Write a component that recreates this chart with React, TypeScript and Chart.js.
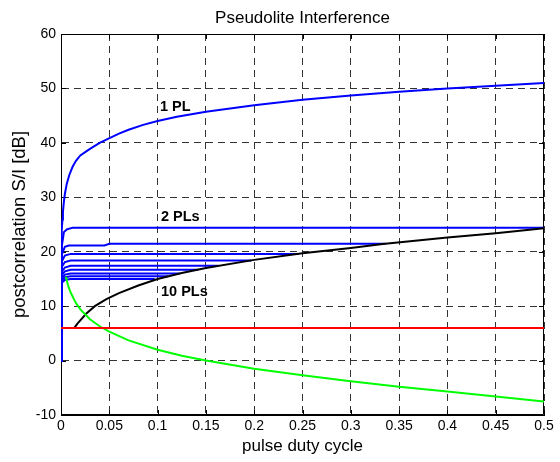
import React, { useEffect, useRef } from "react";
import { Chart, registerables } from "chart.js";

Chart.register(...registerables);

// ---------- data ----------
const xTicks = [0, 0.05, 0.1, 0.15, 0.2, 0.25, 0.3, 0.35, 0.4, 0.45, 0.5];
const yTicks = [-10, 0, 10, 20, 30, 40, 50, 60];

const titleText = "Pseudolite Interference";
const xLabel = "pulse duty cycle";
const yLabel = "postcorrelation S/I [dB]";

// 1 pseudolite
const onePlX = [0, 0.0005, 0.001, 0.0015, 0.002, 0.003, 0.004, 0.006, 0.0086, 0.012, 0.0155, 0.02, 0.025, 0.03, 0.04, 0.047, 0.06, 0.07, 0.085, 0.1, 0.12, 0.15, 0.2, 0.25, 0.3, 0.35, 0.4, 0.45, 0.5];
const onePlY = [0, 20, 24, 25.9, 27.3, 29.2, 30.6, 32.5, 34.1, 35.6, 36.7, 37.7, 38.3, 38.9, 40.0, 40.6, 41.7, 42.4, 43.3, 44.0, 44.8, 45.7, 46.9, 47.9, 48.7, 49.4, 50.0, 50.5, 51.0];

// 2 .. 10 pseudolites
const pl2X = [0, 0.0008, 0.003, 0.006, 0.012, 0.5];
const pl2Y = [0, 21, 23.6, 24.1, 24.4, 24.4];
const pl3X = [0, 0.0008, 0.004, 0.008, 0.045, 0.05, 0.336];
const pl3Y = [0, 19.5, 20.9, 21.15, 21.15, 21.45, 21.45];
const pl4X = [0, 0.0008, 0.004, 0.01, 0.246];
const pl4Y = [0, 18.2, 19.3, 19.6, 19.6];
const pl5X = [0, 0.0008, 0.004, 0.01, 0.197];
const pl5Y = [0, 17.2, 18.1, 18.4, 18.4];
const pl6X = [0, 0.0008, 0.004, 0.01, 0.163];
const pl6Y = [0, 16.3, 17.1, 17.4, 17.4];
const pl7X = [0, 0.0008, 0.004, 0.01, 0.142];
const pl7Y = [0, 15.7, 16.4, 16.7, 16.7];
const pl8X = [0, 0.0008, 0.004, 0.01, 0.123];
const pl8Y = [0, 15.1, 15.8, 16.0, 16.0];
const pl9X = [0, 0.0008, 0.004, 0.01, 0.111];
const pl9Y = [0, 14.7, 15.3, 15.5, 15.5];
const pl10X = [0, 0.0008, 0.004, 0.01, 0.097];
const pl10Y = [0, 14.3, 14.8, 15.0, 15.0];

// black envelope
const envX = [0.0138, 0.017, 0.02, 0.026, 0.035, 0.047, 0.06, 0.08, 0.1, 0.125, 0.15, 0.2, 0.25, 0.3, 0.333, 0.4, 0.45, 0.5];
const envY = [6.0, 6.8, 7.4, 8.6, 10.0, 11.3, 12.4, 13.8, 15.0, 16.1, 17.0, 18.5, 19.7, 20.7, 21.4, 22.6, 23.4, 24.3];

// green curve
const greenX = [0.005, 0.0075, 0.01, 0.015, 0.02, 0.03, 0.04, 0.05, 0.07, 0.1, 0.125, 0.15, 0.2, 0.25, 0.3, 0.35, 0.4, 0.45, 0.5];
const greenY = [15.4, 13.7, 12.5, 10.7, 9.4, 7.6, 6.3, 5.3, 3.7, 2.0, 0.9, 0.0, -1.5, -2.7, -3.8, -4.8, -5.7, -6.6, -7.5];

// red threshold
const redX = [0, 0.5];
const redY = [6, 6];

// in-plot annotations (left / baseline in data units)
const noteTexts = ["1 PL", "2 PLs", "10 PLs"];
const noteX = [0.1025, 0.1035, 0.1035];
const noteY = [45.85, 25.6, 11.8];

const FONT = "'Liberation Sans', Arial, Helvetica, sans-serif";

function pts(xs: number[], ys: number[]) {
  return xs.map((x, i) => ({ x, y: ys[i] }));
}

function line(xs: number[], ys: number[], color: string) {
  return {
    data: pts(xs, ys),
    borderColor: color,
    backgroundColor: color,
    borderWidth: 2,
    pointRadius: 0,
    fill: false,
    tension: 0,
  };
}

export default function App() {
  const ref = useRef<HTMLCanvasElement>(null);

  useEffect(() => {
    document.body.style.margin = "0";
    const canvas = ref.current!;

    const overlay = {
      id: "overlay",
      beforeDatasetsDraw(chart: any) {
        const { ctx, chartArea: a, scales } = chart;
        ctx.save();
        ctx.strokeStyle = "#000";
        ctx.lineWidth = 1;
        ctx.beginPath();
        ctx.rect(a.left + 0.5, a.top + 0.5, a.right - a.left - 1, a.bottom - a.top - 1);
        ctx.stroke();
        // inside tick marks
        ctx.beginPath();
        for (const v of xTicks) {
          const px = Math.round(scales.x.getPixelForValue(v)) + 0.5;
          ctx.moveTo(px, a.bottom);
          ctx.lineTo(px, a.bottom - 5);
          ctx.moveTo(px, a.top);
          ctx.lineTo(px, a.top + 5);
        }
        for (const v of yTicks) {
          const py = Math.round(scales.y.getPixelForValue(v)) + 0.5;
          ctx.moveTo(a.left, py);
          ctx.lineTo(a.left + 5, py);
          ctx.moveTo(a.right, py);
          ctx.lineTo(a.right - 5, py);
        }
        ctx.stroke();
        ctx.restore();
      },
      afterDatasetsDraw(chart: any) {
        const { ctx, chartArea: a, scales } = chart;
        ctx.save();
        ctx.fillStyle = "#000";
        ctx.textAlign = "left";
        ctx.textBaseline = "alphabetic";
        ctx.font = `bold 14.5px ${FONT}`;
        noteTexts.forEach((t, i) => {
          ctx.fillText(t, scales.x.getPixelForValue(noteX[i]), scales.y.getPixelForValue(noteY[i]));
        });
        ctx.font = `17px ${FONT}`;
        ctx.textAlign = "center";
        ctx.fillText(titleText, (a.left + a.right) / 2, 23);
        ctx.restore();
      },
    };

    const chart = new Chart(canvas, {
      type: "line",
      data: {
        datasets: [
          line(redX, redY, "#ff0000"),
          line(greenX, greenY, "#00ff00"),
          line(envX, envY, "#000000"),
          line(pl10X, pl10Y, "#0000ff"),
          line(pl9X, pl9Y, "#0000ff"),
          line(pl8X, pl8Y, "#0000ff"),
          line(pl7X, pl7Y, "#0000ff"),
          line(pl6X, pl6Y, "#0000ff"),
          line(pl5X, pl5Y, "#0000ff"),
          line(pl4X, pl4Y, "#0000ff"),
          line(pl3X, pl3Y, "#0000ff"),
          line(pl2X, pl2Y, "#0000ff"),
          line(onePlX, onePlY, "#0000ff"),
        ] as any,
      },
      options: {
        animation: false,
        responsive: false,
        maintainAspectRatio: false,
        layout: { padding: { left: 0, right: 16, top: 34, bottom: 0 } },
        plugins: {
          legend: { display: false },
          tooltip: { enabled: false },
          title: { display: false },
        },
        scales: {
          x: {
            type: "linear",
            min: 0,
            max: 0.5,
            afterFit: (s: any) => {
              s.height = 47;
            },
            afterBuildTicks: (s: any) => {
              s.ticks = xTicks.map((v) => ({ value: v }));
            },
            grid: { color: "#333", lineWidth: 1, drawTicks: false },
            border: { display: true, color: "#000", width: 1, dash: [7, 5] },
            ticks: {
              color: "#000",
              padding: 3,
              maxRotation: 0,
              autoSkip: false,
              font: { family: FONT, size: 14 },
              callback: (v: any) => String(+Number(v).toFixed(2)),
            },
            title: {
              display: true,
              text: xLabel,
              color: "#000",
              font: { family: FONT, size: 17 },
              padding: { top: 0, bottom: 5 },
            },
          },
          y: {
            type: "linear",
            min: -10,
            max: 60,
            afterFit: (s: any) => {
              s.width = 61;
            },
            afterBuildTicks: (s: any) => {
              s.ticks = yTicks.map((v) => ({ value: v }));
            },
            grid: { color: "#333", lineWidth: 1, drawTicks: false },
            border: { display: true, color: "#000", width: 1, dash: [7, 5] },
            ticks: {
              color: "#000",
              padding: 5,
              autoSkip: false,
              font: { family: FONT, size: 14 },
              callback: (v: any) => String(v),
            },
            title: {
              display: true,
              text: yLabel,
              color: "#000",
              font: { family: FONT, size: 18.5 },
              padding: { top: 9, bottom: 0 },
            },
          },
        },
      } as any,
      plugins: [overlay],
    });

    return () => chart.destroy();
  }, []);

  return <canvas ref={ref} width={560} height={462} style={{ display: "block" }} />;
}
